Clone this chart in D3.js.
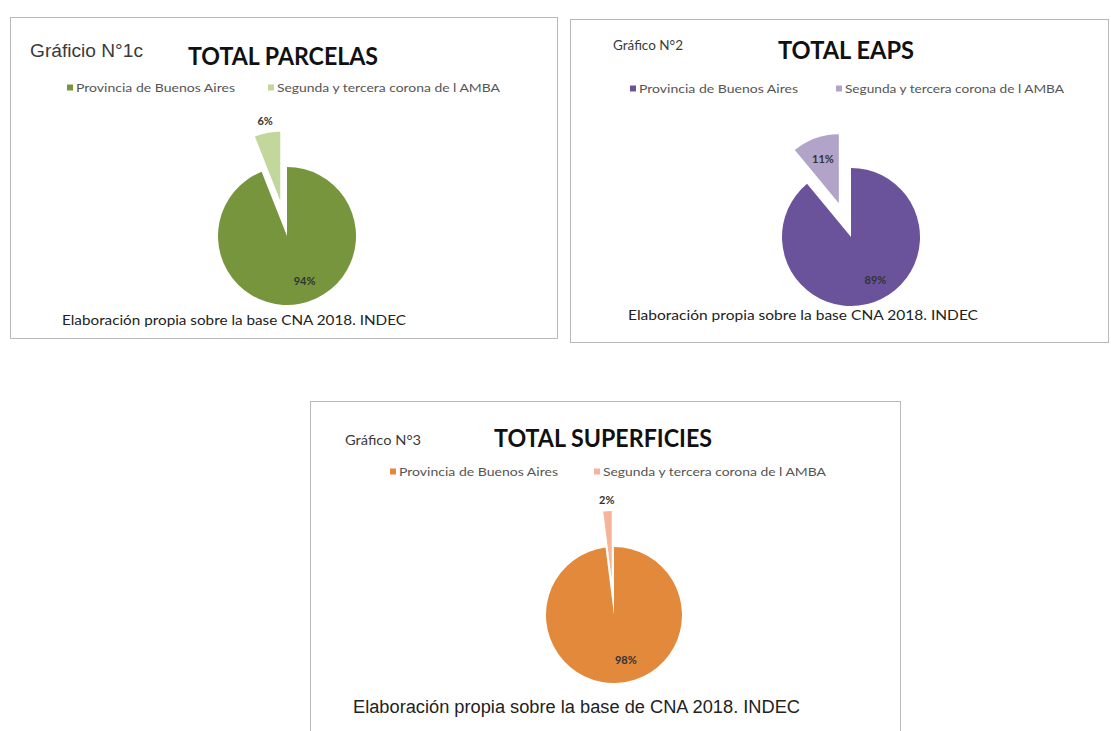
<!DOCTYPE html>
<html>
<head>
<meta charset="utf-8">
<script src="https://cdn.jsdelivr.net/npm/d3@7"></script>
<style>
  body { margin: 0; background: #fff; }
</style>
</head>
<body>
<svg width="1111" height="731"></svg>
<script>
// data
var categories = ["Provincia de Buenos Aires", "Segunda y tercera corona de l AMBA"];
var parcelas = [94, 6];
var eaps = [89, 11];
var superficies = [98, 2];
var titles = ["TOTAL PARCELAS", "TOTAL EAPS", "TOTAL SUPERFICIES"];
var numbers = ["Gráficio N°1c", "Gráfico N°2", "Gráfico N°3"];
var sources = ["Elaboración propia sobre la base CNA 2018.  INDEC",
               "Elaboración propia sobre la base CNA 2018.  INDEC",
               "Elaboración propia sobre la base de CNA 2018. INDEC"];

// layout of each panel
var panels = [
  {values: parcelas, colors: ["#76953c", "#c3d69b"],
   box: [10, 17, 547, 321], cx: 287, cy: 236, r: 69, smallOut: true,
   num: {x: 30, y: 57, size: 18, font: "Liberation Sans", w: 113},
   title: {x: 283, y: 65, w: 190},
   legend: {y: 88, x1: 67, w1: 168, x2: 268, w2: 232},
   src: {x: 62, y: 325, w: 344, size: 14, font: "Lato"}},
  {values: eaps, colors: ["#6a539b", "#b2a4c9"],
   box: [570, 19, 538, 323], cx: 851, cy: 237, r: 69, smallOut: false,
   num: {x: 613, y: 50, size: 13, font: "Lato", w: 70},
   title: {x: 846, y: 59, w: 136},
   legend: {y: 89, x1: 630, w1: 168, x2: 836, w2: 228},
   src: {x: 628, y: 320, w: 350, size: 14, font: "Lato"}},
  {values: superficies, colors: ["#e3893b", "#f8b49a"],
   box: [310, 401, 590, 340], cx: 614, cy: 615, r: 68, smallOut: true,
   num: {x: 345, y: 445, size: 14, font: "Lato", w: 76},
   title: {x: 603, y: 447, w: 218},
   legend: {y: 472, x1: 390, w1: 168, x2: 594, w2: 232},
   src: {x: 353, y: 713, w: 447, size: 18, font: "Liberation Sans"}}
];

var svg = d3.select("svg");
svg.append("rect").attr("width", 1111).attr("height", 731).attr("fill", "#fff");

var pie = d3.pie().sort(null).value(function(d){ return d; });
var explode = 36;

panels.forEach(function(p, i){
  var g = svg.append("g");

  g.append("rect")
    .attr("x", p.box[0] + 0.5).attr("y", p.box[1] + 0.5)
    .attr("width", p.box[2]).attr("height", p.box[3])
    .attr("fill", "#fff").attr("stroke", "#b8b8b8");

  g.append("text")
    .text(numbers[i])
    .attr("x", p.num.x).attr("y", p.num.y)
    .attr("font-family", p.num.font).attr("font-size", p.num.size)
    .attr("textLength", p.num.w).attr("lengthAdjust", "spacingAndGlyphs")
    .attr("fill", "#3a3a3a");

  g.append("text")
    .text(titles[i])
    .attr("x", p.title.x).attr("y", p.title.y)
    .attr("font-family", "Lato").attr("font-weight", "bold").attr("font-size", 25)
    .attr("textLength", p.title.w).attr("lengthAdjust", "spacingAndGlyphs")
    .style("text-anchor", "middle")
    .attr("fill", "#111");

  // legend
  var lx = [p.legend.x1, p.legend.x2];
  var lw = [p.legend.w1, p.legend.w2];
  categories.forEach(function(c, k){
    g.append("rect")
      .attr("x", lx[k]).attr("y", p.legend.y - 3.5)
      .attr("width", 6).attr("height", 6)
      .attr("fill", p.colors[k]);
    g.append("text")
      .text(c)
      .attr("x", lx[k] + 9).attr("y", p.legend.y + 4)
      .attr("font-family", "Lato").attr("font-size", 12)
      .attr("textLength", lw[k] - 9).attr("lengthAdjust", "spacingAndGlyphs")
      .attr("fill", "#555");
  });

  // pie
  var arcs = pie(p.values);
  var arc = d3.arc().innerRadius(0).outerRadius(p.r);
  var pg = g.append("g").attr("transform", "translate(" + p.cx + "," + p.cy + ")");

  arcs.forEach(function(a, k){
    var mid = (a.startAngle + a.endAngle) / 2;
    var off = k == 1 ? explode : 0;
    var dx = Math.sin(mid) * off, dy = -Math.cos(mid) * off;
    pg.append("path")
      .attr("d", arc(a))
      .attr("transform", "translate(" + dx + "," + dy + ")")
      .attr("fill", p.colors[k]);

    var lr, ox = 0;
    if (k == 0) { lr = p.r * 0.66; ox = 9; }
    else { lr = (k == 1 && p.smallOut) ? p.r * 1.17 : p.r * 0.68; }
    g.append("text")
      .text(p.values[k] + "%")
      .attr("x", p.cx + dx + Math.sin(mid) * lr + ox)
      .attr("y", p.cy + dy - Math.cos(mid) * lr + 4)
      .attr("font-family", "Lato").attr("font-weight", "bold").attr("font-size", 11)
      .style("text-anchor", "middle")
      .attr("fill", "#333");
  });

  g.append("text")
    .text(sources[i])
    .attr("x", p.src.x).attr("y", p.src.y)
    .attr("font-family", p.src.font).attr("font-size", p.src.size)
    .attr("textLength", p.src.w).attr("lengthAdjust", "spacingAndGlyphs")
    .attr("fill", "#222");
});
</script>
</body>
</html>
